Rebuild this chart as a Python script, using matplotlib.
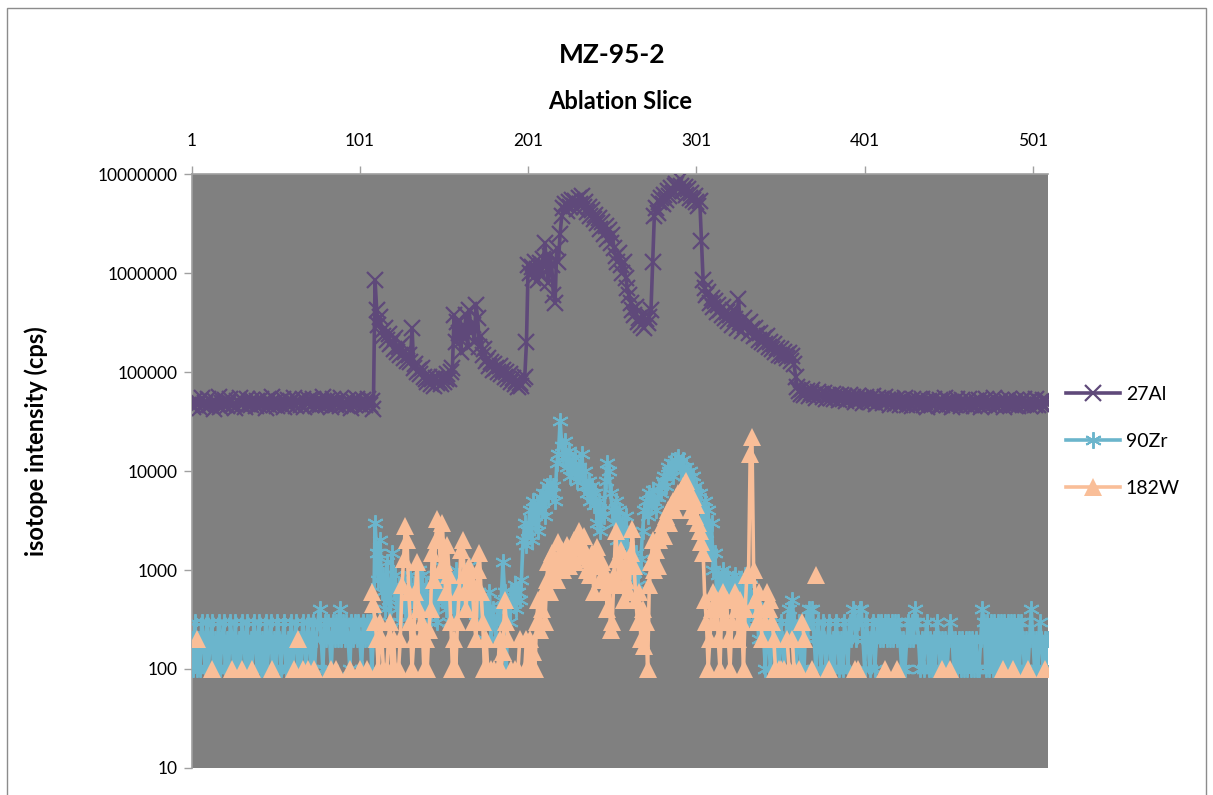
import numpy as np
import matplotlib
matplotlib.use("Agg")
import matplotlib.pyplot as plt
from matplotlib.ticker import FixedLocator, FixedFormatter, NullLocator
from matplotlib.lines import Line2D
from matplotlib.patches import Rectangle

plt.rcParams['font.family'] = ['Lato', 'DejaVu Sans']

#====================================
# isotope counts per ablation slice (cps)
# 27Al is kept in thousands of cps
al_k = [
    48, 44, 52, 46, 50, 43, 55, 47, 49, 45, 53, 46, 50, 42, 51, 48, 56, 44, 49, 47,
    52, 45, 50, 54, 46, 48, 43, 51, 49, 55, 47, 50, 44, 53, 48, 46, 52, 49, 45, 51,
    47, 54, 48, 50, 43, 52, 46, 49, 56, 47, 51, 45, 50, 48, 53, 44, 49, 52, 46, 50,
    48, 55, 45, 51, 49, 47, 53, 44, 50, 48, 52, 46, 54, 49, 45, 51, 47, 50, 56, 48,
    46, 52, 49, 44, 53, 50, 47, 51, 45, 55, 48, 50, 46, 52, 49, 43, 51, 47, 54, 48,
    50, 45, 52, 47, 49, 53, 46, 51, 42, 850, 420, 300, 360, 260, 230, 280, 210, 240, 190, 200,
    170, 220, 160, 180, 150, 190, 140, 160, 130, 150, 125, 280, 110, 120, 100, 105, 95, 110, 90, 85,
    80, 90, 75, 85, 72, 88, 78, 82, 76, 90, 80, 86, 95, 85, 100, 110, 380, 200, 320, 250,
    160, 300, 220, 380, 180, 420, 250, 300, 200, 480, 350, 180, 230, 150, 170, 130, 140, 115, 125, 105,
    120, 110, 100, 115, 95, 105, 90, 100, 85, 95, 80, 88, 75, 82, 70, 78, 72, 85, 90, 200,
    1200, 1000, 1150, 900, 1300, 1100, 850, 1250, 950, 1400, 2000, 1100, 800, 1500, 1200, 600, 500, 1800, 1300, 2500,
    3800, 4500, 5000, 4200, 5200, 4600, 5500, 4800, 5300, 4400, 5800, 5000, 6000, 4700, 5200, 4100, 4600, 3800, 4300, 3500,
    3900, 3200, 3600, 2800, 3300, 2500, 3000, 2200, 2700, 2000, 2400, 1800, 1500, 1300, 1600, 1200, 1000, 1300, 900, 700,
    600, 500, 420, 380, 450, 320, 350, 300, 380, 280, 340, 310, 360, 420, 1300, 3800, 4500, 4000, 5200, 5800,
    5000, 6200, 5500, 6800, 6000, 7200, 6500, 7500, 8000, 7000, 9000, 7600, 6800, 7400, 6200, 7000, 5800, 6400, 5500, 6000,
    5200, 4800, 5400, 2100, 850, 700, 600, 650, 500, 560, 450, 520, 400, 480, 420, 380, 450, 350, 400, 330,
    380, 300, 420, 340, 280, 550, 320, 260, 350, 290, 300, 250, 320, 270, 230, 280, 240, 210, 250, 200,
    220, 190, 230, 180, 200, 170, 190, 160, 175, 150, 170, 145, 160, 150, 140, 155, 130, 145, 120, 90,
    70, 65, 60, 68, 58, 62, 64, 57, 61, 66, 59, 55, 63, 58, 60, 56, 62, 54, 59, 57,
    55, 60, 53, 58, 56, 52, 59, 54, 57, 51, 55, 58, 53, 56, 50, 54, 57, 52, 55, 49,
    53, 56, 51, 54, 50, 57, 52, 48, 55, 51, 53, 49, 56, 50, 52, 47, 54, 51, 48, 53,
    50, 46, 52, 49, 55, 47, 51, 48, 45, 53, 50, 46, 52, 48, 54, 47, 50, 44, 51, 49,
    46, 53, 48, 50, 45, 52, 47, 49, 55, 46, 51, 48, 44, 50, 47, 53, 49, 45, 52, 48,
    50, 46, 54, 47, 49, 45, 51, 48, 52, 44, 50, 47, 53, 49, 46, 51, 48, 55, 45, 50,
    47, 52, 49, 44, 51, 48, 53, 46, 50, 47, 52, 45, 49, 51, 46, 54, 48, 50, 45, 52,
    49, 47, 53, 46, 50, 48, 52, 45, 51, 50,
]

zr = [
    200, 100, 300, 100, 200, 100, 300, 200, 100, 300, 100, 200, 300, 100, 200, 100, 300, 100, 200, 300,
    100, 200, 100, 300, 200, 100, 300, 100, 200, 100, 300, 200, 100, 300, 100, 200, 100, 300, 200, 100,
    300, 100, 200, 100, 300, 100, 200, 300, 100, 200, 100, 300, 200, 100, 200, 300, 100, 200, 100, 300,
    100, 200, 300, 100, 200, 100, 300, 200, 100, 300, 200, 100, 300, 100, 200, 300, 400, 200, 100, 300,
    200, 300, 200, 100, 300, 200, 300, 200, 400, 200, 300, 200, 300, 200, 100, 300, 200, 300, 200, 300,
    200, 100, 300, 200, 300, 200, 300, 100, 200, 3000, 1500, 800, 2000, 600, 900, 400, 1200, 500, 300, 1500,
    600, 900, 400, 700, 300, 500, 800, 400, 600, 300, 900, 500, 700, 400, 600, 1000, 500, 900, 400, 700,
    500, 300, 600, 400, 800, 500, 300, 600, 1100, 500, 700, 400, 600, 300, 500, 800, 400, 1000, 600, 500,
    700, 400, 900, 500, 600, 1100, 400, 700, 500, 300, 600, 400, 300, 500, 200, 400, 300, 600, 200, 400,
    300, 200, 400, 300, 500, 1200, 600, 100, 400, 300, 600, 500, 700, 400, 600, 500, 800, 2000, 3000, 1800,
    2500, 4000, 2000, 5000, 3000, 4500, 2500, 5500, 4000, 6000, 3500, 7000, 5500, 7500, 6000, 7000, 5000, 12000, 15000, 32000,
    18000, 14000, 20000, 11000, 16000, 9000, 13000, 10000, 14000, 8000, 11000, 9000, 15000, 7000, 10000, 6000, 8000, 5000, 7000, 4500,
    6000, 3000, 5000, 2500, 4000, 3500, 8000, 12000, 10000, 6000, 4000, 3000, 5000, 2000, 4000, 1500, 3000, 2000, 3500, 1800,
    1500, 1000, 1200, 800, 1500, 700, 1000, 1300, 2500, 4000, 5000, 3500, 6000, 4500, 6500, 5000, 4000, 5500, 7000, 6000,
    8000, 9000, 7000, 11000, 10000, 12000, 9000, 13000, 11000, 14000, 12000, 10000, 13000, 9000, 11000, 8000, 10000, 6000, 9000, 5000,
    7000, 4500, 6000, 4000, 3000, 5000, 2000, 4000, 1500, 3000, 1000, 1500, 600, 900, 500, 800, 1000, 600, 900, 700,
    500, 800, 600, 900, 700, 500, 800, 400, 600, 900, 300, 500, 700, 400, 600, 300, 500, 200, 400, 300,
    200, 100, 300, 200, 100, 200, 300, 100, 200, 100, 300, 200, 100, 200, 300, 400, 200, 500, 300, 100,
    200, 300, 100, 200, 100, 300, 200, 400, 300, 400, 200, 100, 300, 200, 100, 300, 200, 100, 200, 300,
    100, 200, 100, 300, 200, 100, 200, 100, 300, 200, 100, 300, 200, 400, 300, 200, 300, 400, 400, 200,
    100, 300, 200, 100, 200, 300, 100, 200, 300, 200, 300, 200, 300, 200, 300, 200, 300, 200, 300, 200,
    300, 200, 100, 200, 100, 200, 300, 200, 300, 200, 400, 300, 200, 100, 200, 100, 200, 300, 100, 200,
    100, 200, 100, 300, 200, 100, 200, 100, 200, 100, 200, 300, 200, 100, 200, 100, 200, 100, 200, 100,
    200, 100, 200, 100, 200, 100, 200, 100, 100, 200, 400, 300, 100, 300, 100, 300, 100, 300, 100, 300,
    100, 300, 100, 300, 100, 300, 100, 300, 100, 300, 100, 300, 100, 300, 200, 100, 200, 100, 200, 400,
    200, 100, 200, 100, 300, 200, 100, 200, 100, 200,
]

# 0 means nothing counted in that slice (cannot sit on a log axis)
w = [
    0, 0, 0, 200, 0, 0, 0, 0, 0, 0, 0, 0, 100, 0, 0, 0, 0, 0, 0, 0,
    0, 0, 0, 0, 100, 0, 0, 0, 0, 0, 100, 0, 0, 0, 0, 0, 100, 0, 0, 0,
    0, 0, 0, 0, 0, 0, 0, 0, 100, 0, 0, 0, 0, 0, 0, 0, 0, 0, 0, 0,
    0, 100, 0, 200, 0, 0, 100, 0, 0, 100, 0, 0, 0, 100, 0, 0, 0, 0, 0, 0,
    0, 0, 0, 100, 0, 0, 100, 0, 0, 0, 0, 0, 0, 0, 100, 0, 0, 0, 0, 0,
    100, 0, 0, 0, 100, 0, 0, 600, 450, 300, 200, 100, 300, 200, 100, 0, 100, 200, 300, 100,
    200, 100, 0, 100, 200, 700, 1300, 2800, 2000, 600, 300, 100, 200, 600, 1200, 400, 200, 300, 100, 200,
    100, 250, 400, 1500, 800, 2000, 3300, 2200, 1000, 3000, 1200, 600, 1800, 900, 300, 100, 200, 100, 300, 600,
    1600, 2000, 900, 400, 700, 1100, 800, 600, 300, 200, 1000, 1500, 600, 300, 100, 200, 100, 0, 100, 0,
    100, 0, 100, 200, 100, 150, 500, 300, 200, 0, 100, 0, 100, 0, 100, 200, 0, 0, 100, 200,
    100, 200, 100, 150, 100, 300, 500, 250, 400, 600, 300, 800, 1200, 600, 1500, 900, 1300, 800, 1900, 1200,
    1600, 1000, 1400, 1800, 1100, 1500, 1300, 2000, 1200, 1700, 2500, 1900, 1400, 2200, 1600, 1000, 1300, 900, 1500, 600,
    1100, 1700, 1300, 800, 1200, 600, 900, 400, 700, 250, 300, 900, 2500, 1300, 700, 1600, 1000, 500, 800, 1200,
    600, 1500, 2600, 1100, 500, 300, 600, 200, 400, 170, 300, 100, 700, 1200, 2000, 1000, 1600, 1100, 2000, 2500,
    3000, 2200, 3500, 4000, 3000, 4500, 5000, 4000, 5500, 6000, 5000, 6500, 7000, 7500, 8000, 6000, 5000, 4000, 5500, 3500,
    4500, 3000, 2500, 1900, 1500, 500, 300, 100, 200, 400, 600, 300, 500, 200, 100, 400, 600, 300, 500, 200,
    100, 300, 500, 600, 400, 200, 500, 300, 100, 400, 900, 900, 15000, 22000, 1000, 500, 300, 600, 400, 200,
    0, 300, 600, 400, 500, 300, 200, 100, 0, 100, 100, 0, 100, 0, 200, 100, 0, 200, 100, 0,
    0, 100, 0, 300, 200, 0, 0, 0, 0, 100, 0, 900, 0, 0, 0, 0, 0, 0, 0, 100,
    0, 0, 0, 0, 0, 0, 0, 0, 0, 0, 0, 0, 0, 0, 100, 0, 100, 0, 0, 0,
    0, 0, 0, 0, 0, 0, 0, 0, 0, 0, 0, 0, 100, 0, 0, 0, 0, 0, 0, 100,
    0, 0, 0, 0, 0, 0, 0, 0, 0, 0, 0, 0, 0, 0, 0, 0, 0, 0, 0, 0,
    0, 0, 0, 0, 0, 0, 100, 0, 0, 0, 0, 100, 0, 0, 0, 0, 0, 0, 0, 0,
    0, 0, 0, 0, 0, 0, 0, 0, 0, 0, 0, 0, 0, 0, 0, 0, 0, 0, 0, 0,
    0, 0, 100, 0, 0, 0, 0, 0, 100, 0, 0, 0, 0, 0, 0, 0, 0, 100, 0, 0,
    0, 0, 0, 0, 0, 0, 0, 100, 0, 0,
]

slice_ticks = [1, 101, 201, 301, 401, 501]
y_ticks = [10, 100, 1000, 10000, 100000, 1000000, 10000000]
series_names = ['27Al', '90Zr', '182W']

#====================================
al = np.array(al_k, dtype=float) * 1000
zr_arr = np.array(zr, dtype=float)
w_arr = np.array(w, dtype=float)
w_arr[w_arr <= 0] = np.nan

AL_COL = '#5F497A'
ZR_COL = '#6BB5CC'
W_COL = '#F9BE98'
STAR = (6, 2, 0)

fig = plt.figure(figsize=(12.13, 7.95), dpi=100)
fig.patches.append(Rectangle((0.006, -0.01), 0.988, 1.0, transform=fig.transFigure,
                             fill=False, edgecolor='#8C8C8C', linewidth=1.0))

ax = fig.add_axes([0.158, 0.034, 0.706, 0.747])
ax.set_facecolor('#808080')

ax.plot(np.arange(1, len(al) + 1), al, color=AL_COL, lw=2.6, marker='x',
        ms=11, mew=1.6, zorder=3)
ax.plot(np.arange(1, len(zr_arr) + 1), zr_arr, color=ZR_COL, lw=2.6, marker=STAR,
        ms=12, mew=1.4, zorder=4)
ax.plot(np.arange(1, len(w_arr) + 1), w_arr, color=W_COL, lw=2.6, marker='^',
        ms=13, mew=0, zorder=5)

ax.set_yscale('log')
ax.set_ylim(10, 10000000)
ax.set_xlim(1, 510)

ax.yaxis.set_major_locator(FixedLocator(y_ticks))
ax.yaxis.set_major_formatter(FixedFormatter([str(v) for v in y_ticks]))
ax.yaxis.set_minor_locator(NullLocator())
ax.xaxis.set_major_locator(FixedLocator(slice_ticks))
ax.xaxis.set_major_formatter(FixedFormatter([str(v) for v in slice_ticks]))
ax.xaxis.set_minor_locator(NullLocator())

ax.xaxis.tick_top()
ax.tick_params(axis='x', direction='out', length=6, width=1, color='#A0A0A0',
               labelsize=12.5, pad=12)
ax.tick_params(axis='y', direction='out', length=6, width=1, color='#A0A0A0',
               labelsize=12.5, pad=4)
for side in ['bottom', 'right']:
    ax.spines[side].set_visible(False)
for side in ['top', 'left']:
    ax.spines[side].set_color('#A0A0A0')
    ax.spines[side].set_linewidth(1.2)

fig.text(0.505, 0.931, 'MZ-95-2', ha='center', va='center', fontsize=19, fontweight='bold')
fig.text(0.511, 0.872, 'Ablation Slice', ha='center', va='center', fontsize=17, fontweight='bold')
fig.text(0.030, 0.445, 'isotope intensity (cps)', ha='center', va='center', rotation=90,
         fontsize=17, fontweight='bold')

handles = [
    Line2D([], [], color=AL_COL, lw=2.6, marker='x', ms=11, mew=1.6),
    Line2D([], [], color=ZR_COL, lw=2.6, marker=STAR, ms=12, mew=1.4),
    Line2D([], [], color=W_COL, lw=2.6, marker='^', ms=13, mew=0),
]
fig.legend(handles, series_names, loc='center left', bbox_to_anchor=(0.872, 0.445),
           frameon=False, fontsize=14, handlelength=2.8, handletextpad=0.3,
           labelspacing=1.55, borderaxespad=0)

fig.savefig('out.png', dpi=100)
